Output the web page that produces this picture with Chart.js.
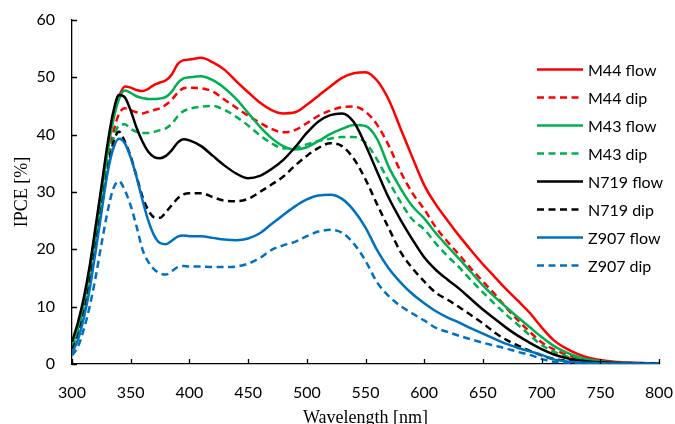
<!DOCTYPE html>
<html>
<head>
<meta charset="utf-8">
<title>IPCE</title>
<script src="https://cdn.jsdelivr.net/npm/chart.js@4/dist/chart.umd.min.js"></script>
<style>
  html, body { margin: 0; padding: 0; background: #fff; }
  #chart { display: block; }
</style>
</head>
<body>
<canvas id="chart" width="675" height="424"></canvas>
<script>
// Wavelength grid (nm): 5 nm steps up to 400, then 10 nm steps
const wavelength = [
  300, 305, 310, 315, 320, 325, 330, 335, 340, 345, 350, 355, 360, 365, 370, 375, 380, 385, 390, 395, 400,
  410, 420, 430, 440, 450, 460, 470, 480, 490, 500,
  510, 520, 530, 540, 550, 560, 570, 580, 590, 600,
  610, 620, 630, 640, 650, 660, 670, 680, 690, 700,
  710, 720, 730, 740, 750, 760, 770, 780, 790, 800
];

// IPCE (%) per dye / deposition method
const m44Flow = [
  3.5, 6.3, 10.8, 16.5, 23.2, 30.3, 37.3, 43.2, 46.6, 48.4, 48.2, 47.8, 47.6, 48.0, 48.7, 49.1, 49.5, 50.5, 52.3, 53.0, 53.1,
  53.4, 52.6, 51.3, 49.3, 47.4, 45.6, 44.3, 43.7, 43.9, 45.2,
  46.8, 48.4, 49.9, 50.7, 50.9, 49.4, 46.0, 41.0, 36.0, 31.2,
  27.8, 25.0, 22.3, 19.8, 17.4, 15.2, 13.0, 11.0, 8.9, 6.4,
  4.2, 2.8, 1.8, 1.1, 0.7, 0.45, 0.3, 0.2, 0.15, 0.1
];
const m44Dip = [
  3.0, 5.6, 10.0, 15.6, 21.8, 28.5, 35.0, 40.2, 43.6, 44.6, 44.3, 43.9, 43.7, 44.0, 44.3, 44.6, 45.2, 46.1, 47.3, 48.1, 48.2,
  48.1, 47.5, 46.1, 44.7, 43.3, 42.1, 41.0, 40.4, 40.8, 42.0,
  43.3, 44.2, 44.8, 44.9, 44.0, 41.7, 38.0, 33.5, 29.8, 27.0,
  23.8, 21.3, 19.0, 16.6, 14.4, 12.2, 9.8, 7.6, 5.6, 3.8,
  2.6, 1.7, 1.1, 0.7, 0.45, 0.3, 0.2, 0.1, 0.1, 0.05
];
const m43Flow = [
  3.3, 6.0, 10.6, 16.4, 22.8, 29.8, 36.7, 42.3, 46.2, 47.7, 47.3, 46.7, 46.4, 46.2, 46.2, 46.3, 46.6, 47.5, 49.0, 49.8, 50.0,
  50.2, 49.5, 48.1, 46.2, 43.8, 41.4, 39.4, 38.0, 37.4, 37.8,
  38.9, 40.1, 41.0, 41.7, 41.5, 39.2, 34.3, 30.6, 27.5, 25.4,
  22.8, 20.5, 18.3, 16.0, 13.7, 11.7, 9.9, 8.1, 6.4, 4.7,
  3.2, 2.1, 1.3, 0.8, 0.5, 0.3, 0.2, 0.15, 0.1, 0.1
];
const m43Dip = [
  3.0, 5.5, 9.8, 15.3, 21.3, 27.8, 34.3, 39.0, 41.6, 41.8, 41.0, 40.5, 40.3, 40.3, 40.5, 40.8, 41.1, 41.9, 43.2, 44.1, 44.5,
  44.9, 45.0, 44.3, 43.1, 41.6, 39.9, 38.5, 37.6, 37.7, 38.3,
  38.9, 39.3, 39.6, 39.6, 38.6, 35.6, 31.8, 28.2, 25.2, 23.5,
  21.0, 18.8, 16.8, 14.6, 12.5, 10.5, 8.6, 6.8, 5.0, 3.3,
  2.2, 1.4, 0.9, 0.6, 0.4, 0.25, 0.15, 0.1, 0.1, 0.05
];
const n719Flow = [
  3.9, 7.2, 11.5, 17.0, 23.8, 30.8, 38.0, 43.8, 46.9, 46.5, 44.2, 41.2, 38.8, 37.0, 36.1, 35.9, 36.3, 37.3, 38.6, 39.2, 39.0,
  38.0, 36.3, 34.6, 33.2, 32.4, 32.8, 34.0, 35.6, 37.8, 40.3,
  42.3, 43.4, 43.7, 42.2, 38.2, 33.5, 28.9, 25.1, 21.7, 18.6,
  16.4, 14.7, 13.1, 11.3, 9.5, 7.9, 6.3, 4.9, 3.7, 2.6,
  1.7, 1.1, 0.7, 0.45, 0.3, 0.2, 0.15, 0.1, 0.1, 0.1
];
const n719Dip = [
  2.6, 4.8, 8.8, 14.0, 20.3, 27.0, 33.5, 38.5, 40.5, 38.8, 36.2, 32.7, 29.2, 26.8, 25.6, 25.5, 26.5, 27.7, 28.9, 29.6, 29.8,
  29.8, 29.1, 28.5, 28.4, 28.8, 30.0, 31.3, 32.7, 34.6, 36.3,
  37.7, 38.5, 38.0, 35.8, 32.2, 27.8, 23.6, 19.5, 16.7, 14.4,
  12.4, 11.2, 9.9, 8.5, 7.1, 5.5, 4.2, 3.2, 2.3, 1.5,
  0.9, 0.6, 0.4, 0.25, 0.15, 0.1, 0.1, 0.05, 0.05, 0.05
];
const z907Flow = [
  1.9, 4.2, 8.0, 13.0, 19.5, 26.3, 33.0, 37.5, 39.3, 38.5, 36.0, 32.6, 28.6, 25.0, 22.4, 21.1, 20.9, 21.5, 22.2, 22.4, 22.3,
  22.3, 22.0, 21.7, 21.6, 21.9, 22.8, 24.4, 26.0, 27.5, 28.7,
  29.4, 29.5, 28.8, 26.8, 23.8, 19.8, 16.6, 14.2, 12.2, 10.6,
  9.2, 8.1, 7.2, 6.2, 5.3, 4.4, 3.5, 2.8, 2.2, 1.6,
  0.8, 0.5, 0.3, 0.2, 0.15, 0.1, 0.1, 0.05, 0.05, 0.05
];
const z907Dip = [
  1.5, 3.0, 6.0, 10.0, 15.0, 20.8, 26.3, 30.5, 31.9, 30.3, 27.6, 24.0, 20.0, 17.8, 16.5, 15.8, 15.6, 16.2, 16.9, 17.1, 17.0,
  17.0, 16.9, 16.9, 17.0, 17.5, 18.5, 19.9, 20.7, 21.3, 22.3,
  23.1, 23.4, 22.9, 21.0, 18.0, 14.2, 11.8, 10.1, 8.8, 7.6,
  6.3, 5.6, 4.9, 4.3, 3.7, 3.2, 2.7, 2.1, 1.6, 0.9,
  0.4, 0.25, 0.15, 0.1, 0.1, 0.05, 0.05, 0.05, 0.05, 0.05
];

const seriesLabels = ['M44 flow', 'M44 dip', 'M43 flow', 'M43 dip', 'N719 flow', 'N719 dip', 'Z907 flow', 'Z907 dip'];
const seriesValues = [m44Flow, m44Dip, m43Flow, m43Dip, n719Flow, n719Dip, z907Flow, z907Dip];
const seriesColors = ['#FF0000', '#FF0000', '#00B050', '#00B050', '#000000', '#000000', '#0070C0', '#0070C0'];

const xTicks = [300, 350, 400, 450, 500, 550, 600, 650, 700, 750, 800];
const yTicks = [0, 10, 20, 30, 40, 50, 60];

const DASH = [7, 4.5];
const LINE_W = 2.5;

const datasets = seriesLabels.map((label, i) => ({
  label: label,
  data: wavelength.map((w, k) => ({ x: w, y: seriesValues[i][k] })),
  borderColor: seriesColors[i],
  backgroundColor: seriesColors[i],
  borderWidth: LINE_W,
  borderDash: label.endsWith('dip') ? DASH : [],
  pointRadius: 0,
  cubicInterpolationMode: 'monotone',
  fill: false,
  // later series painted over earlier ones
  order: seriesLabels.length - 1 - i
}));

// short tick marks pointing into the plot
const innerTicks = {
  id: 'innerTicks',
  afterDraw(chart) {
    const { ctx, chartArea, scales } = chart;
    ctx.save();
    ctx.strokeStyle = '#000';
    ctx.lineWidth = 1.3;
    ctx.beginPath();
    scales.x.ticks.forEach(t => {
      const px = Math.round(scales.x.getPixelForValue(t.value)) + 0.5;
      ctx.moveTo(px, chartArea.bottom);
      ctx.lineTo(px, chartArea.bottom - 5);
    });
    scales.y.ticks.forEach(t => {
      const py = Math.round(scales.y.getPixelForValue(t.value)) + 0.5;
      ctx.moveTo(chartArea.left, py);
      ctx.lineTo(chartArea.left + 5, py);
    });
    ctx.stroke();
    ctx.restore();
  }
};

// legend drawn inside the plot, top right
const insideLegend = {
  id: 'insideLegend',
  afterDraw(chart) {
    const { ctx, chartArea } = chart;
    const x0 = chartArea.right - 122;
    const lineLen = 46;
    const y0 = chartArea.top + 49;
    const step = 28;
    ctx.save();
    ctx.font = '16px Lato';
    ctx.textBaseline = 'middle';
    ctx.textAlign = 'left';
    chart.data.datasets.forEach((ds, i) => {
      const y = Math.round(y0 + i * step) + 0.5;
      ctx.strokeStyle = ds.borderColor;
      ctx.lineWidth = LINE_W;
      ctx.setLineDash(ds.borderDash);
      ctx.beginPath();
      ctx.moveTo(x0, y);
      ctx.lineTo(x0 + lineLen, y);
      ctx.stroke();
      ctx.fillStyle = '#000';
      ctx.fillText(ds.label, x0 + lineLen + 5, y + 1);
    });
    ctx.restore();
  }
};

Chart.defaults.color = '#000';
Chart.defaults.font.family = 'Lato';
Chart.defaults.font.size = 16;

new Chart(document.getElementById('chart'), {
  type: 'line',
  data: { datasets: datasets },
  options: {
    responsive: false,
    animation: false,
    layout: { padding: { left: 0, right: 16, top: 20, bottom: 0 } },
    plugins: {
      legend: { display: false },
      tooltip: { enabled: false }
    },
    scales: {
      x: {
        type: 'linear',
        min: 300,
        max: 800,
        afterBuildTicks: s => { s.ticks = xTicks.map(v => ({ value: v })); },
        afterFit: s => {
          s.height = 60;
          s.paddingLeft = 0;
          s.paddingRight = 0;
        },
        grid: { display: false, drawTicks: false },
        border: { display: true, color: '#000', width: 1.3 },
        ticks: { padding: 19, maxRotation: 0, font: { family: 'Lato', size: 16 } },
        title: {
          display: true,
          text: 'Wavelength [nm]',
          font: { family: 'Liberation Serif', size: 18, lineHeight: 1.0 },
          padding: { top: 0, bottom: -3 }
        }
      },
      y: {
        min: 0,
        max: 60,
        afterBuildTicks: s => { s.ticks = yTicks.map(v => ({ value: v })); },
        afterFit: s => {
          s.width = 72;
          s.paddingTop = 0;
          s.paddingBottom = 0;
        },
        grid: { display: false, drawTicks: false },
        border: { display: true, color: '#000', width: 1.3 },
        ticks: { padding: 17, font: { family: 'Lato', size: 16 } },
        title: {
          display: true,
          text: 'IPCE [%]',
          font: { family: 'Liberation Serif', size: 18 },
          padding: { top: 11, bottom: 0 }
        }
      }
    }
  },
  plugins: [innerTicks, insideLegend]
});
</script>
</body>
</html>
